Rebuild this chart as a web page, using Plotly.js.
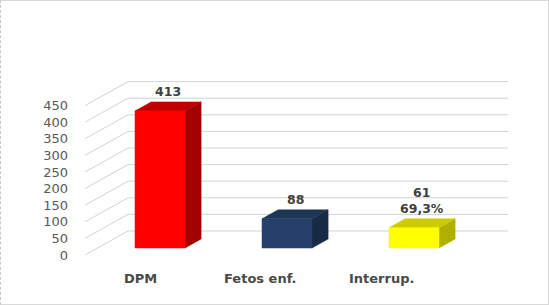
<!DOCTYPE html>
<html>
<head>
<meta charset="utf-8">
<script src="https://cdn.plot.ly/plotly-3.0.1.min.js"></script>
<style>
  html, body { margin: 0; padding: 0; background: #fff; }
  #wrap { width: 547px; height: 303px; border: 1px solid #D9D9D9; border-left: 1px dashed #C8C8C8; background: #fff; }
  #chart { width: 547px; height: 303px; }
</style>
</head>
<body>
<div id="wrap"><div id="chart"></div></div>
<script>
// ---- data ----
const categories = ['DPM', 'Fetos enf.', 'Interrup.'];
const values = [413, 88, 61];
const extraLabels = ['', '', '69,3%'];
const yTickVals = [0, 50, 100, 150, 200, 250, 300, 350, 400, 450];
const yTickText = ['0', '50', '100', '150', '200', '250', '300', '350', '400', '450'];
const frontColors = ['#FF0000', '#24406A', '#FFFF00'];
const topColors = ['#C00000', '#1E3656', '#CCCC00'];
const sideColors = ['#A30000', '#172B45', '#B0AE00'];

// ---- projection / layout geometry (pixels on x, values on y) ----
const PXPERVAL = 0.332;
const WALL_DX = 43;
const WALL_DV = 24 / PXPERVAL;
const FRONT_X = 85;
const BACK_RIGHT = 508;
const BAR_D0 = 0.29;
const BAR_DEPTH = 0.375;
const BAR_W = 50;
const BAR_X0 = 160, BAR_STEP = 127;

const traces = [];
const grid = {color: '#D3D3D3', width: 1};

// back wall gridlines + left wall diagonals
yTickVals.forEach(t => {
  traces.push({type: 'scatter', x: [FRONT_X, FRONT_X + WALL_DX, BACK_RIGHT], y: [t, t + WALL_DV, t + WALL_DV],
    mode: 'lines', line: grid, hoverinfo: 'skip', showlegend: false});
});

const centers = categories.map((c, i) => BAR_X0 + BAR_STEP * i);
const base = BAR_D0 * WALL_DV;
const ddx = BAR_DEPTH * WALL_DX, ddv = BAR_DEPTH * WALL_DV;

function face(xs, ys, color) {
  return {type: 'scatter', x: xs, y: ys, mode: 'lines', fill: 'toself', fillcolor: color,
    line: {width: 0.5, color: color}, hoverinfo: 'skip', showlegend: false};
}

values.forEach((v, i) => {
  const l = centers[i] - BAR_W / 2, r = centers[i] + BAR_W / 2, top = base + v;
  traces.push(face([r, r, r + ddx, r + ddx, r], [base, top, top + ddv, base + ddv, base], sideColors[i]));
  traces.push(face([l, r, r + ddx, l + ddx, l], [top, top, top + ddv, top + ddv, top], topColors[i]));
  traces.push(face([l, r, r, l, l], [base, base, top, top, base], frontColors[i]));
});

const annotations = [];
values.forEach((v, i) => {
  const txt = String(v) + (extraLabels[i] ? '<br>' + extraLabels[i] : '');
  annotations.push({x: centers[i] + ddx / 2, y: base + v + ddv, xref: 'x', yref: 'y',
    text: txt, showarrow: false, yanchor: 'bottom', xanchor: 'center', yshift: 1,
    font: {family: 'DejaVu Sans', size: 12.5, color: '#404040', weight: 'bold'}});
});
categories.forEach((c, i) => {
  annotations.push({x: 140 + 120.5 * i, y: -70, xref: 'x', yref: 'y', text: c, showarrow: false,
    xanchor: 'center', yanchor: 'middle',
    font: {family: 'DejaVu Sans', size: 13, color: '#4A4A4A', weight: 'bold'}});
});

const layout = {
  width: 547, height: 303,
  margin: {l: 84, r: 0, t: 0, b: 0},
  paper_bgcolor: '#fff', plot_bgcolor: '#fff',
  showlegend: false,
  xaxis: {range: [85, 548], visible: false, fixedrange: true},
  yaxis: {range: [-49 / PXPERVAL, 254 / PXPERVAL], tickvals: yTickVals, ticktext: yTickText,
    showgrid: false, zeroline: false, showline: false, ticks: '', ticklabelstandoff: 16,
    tickfont: {family: 'DejaVu Sans', size: 13, color: '#595959'}, fixedrange: true},
  annotations: annotations
};

Plotly.newPlot('chart', traces, layout, {staticPlot: true, displayModeBar: false});
</script>
</body>
</html>
